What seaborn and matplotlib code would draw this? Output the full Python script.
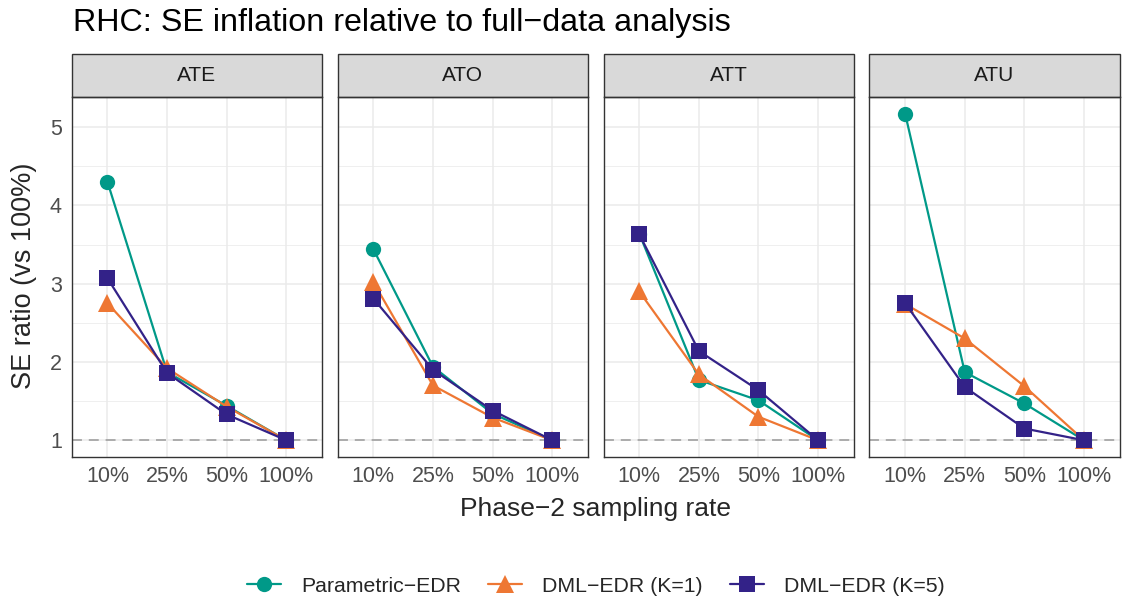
import numpy as np
import pandas as pd
import seaborn as sns
import matplotlib.pyplot as plt
from matplotlib.lines import Line2D
from matplotlib.patches import Rectangle

# values
rates = ['10%', '25%', '50%', '100%']
estimands = ['ATE', 'ATO', 'ATT', 'ATU']
methods = ['Parametric\u2212EDR', 'DML\u2212EDR (K=1)', 'DML\u2212EDR (K=5)']

param_edr = {
    'ATE': [4.30, 1.87, 1.44, 1.00],
    'ATO': [3.44, 1.94, 1.34, 1.00],
    'ATT': [3.64, 1.77, 1.51, 1.00],
    'ATU': [5.17, 1.87, 1.47, 1.00],
}
dml_k1 = {
    'ATE': [2.75, 1.92, 1.43, 1.00],
    'ATO': [3.02, 1.70, 1.29, 1.00],
    'ATT': [2.90, 1.84, 1.30, 1.00],
    'ATU': [2.74, 2.30, 1.69, 1.00],
}
dml_k5 = {
    'ATE': [3.07, 1.86, 1.33, 1.00],
    'ATO': [2.81, 1.90, 1.38, 1.00],
    'ATT': [3.63, 2.14, 1.64, 1.00],
    'ATU': [2.75, 1.68, 1.15, 1.00],
}

colors = ['#009988', '#EE7733', '#332288']
markers = ['o', '^', 's']
msizes = [11, 13, 12]

rows = []
for m, src in zip(methods, [param_edr, dml_k1, dml_k5]):
    for est in estimands:
        for r, v in zip(rates, src[est]):
            rows.append({'method': m, 'estimand': est, 'rate': r, 'ratio': v})
df = pd.DataFrame(rows)

sns.set_style("white")
plt.rcParams['font.family'] = ['Liberation Sans', 'DejaVu Sans']

W, H = 1122, 599
fig = plt.figure(figsize=(W / 100, H / 100), dpi=100)

left0, pw, gap = 71.7, 250.3, 15.6
top_px, bot_px = 97.3, 456.7
strip_h = 43.0

for i, est in enumerate(estimands):
    x0 = left0 + i * (pw + gap)
    ax = fig.add_axes([x0 / W, 1 - bot_px / H, pw / W, (bot_px - top_px) / H])
    sub = df[df['estimand'] == est]
    ax.axhline(1, color='#999999', lw=1.1, dashes=(6.5, 4.5), zorder=1.5)
    for m, c, mk, ms in zip(methods, colors, markers, msizes):
        sns.lineplot(data=sub[sub['method'] == m], x='rate', y='ratio', color=c,
                     marker=mk, markersize=ms, markeredgewidth=0, lw=1.6,
                     sort=False, ax=ax, zorder=3)
    ax.set_xlim(-0.6, 3.6)
    ax.set_ylim(0.79, 5.38)
    ax.set_yticks([1, 2, 3, 4, 5])
    ax.set_yticks([1.5, 2.5, 3.5, 4.5], minor=True)
    ax.set_xlabel('')
    ax.set_ylabel('')
    ax.grid(True, which='major', color='#EBEBEB', lw=1.1, zorder=0)
    ax.grid(True, which='minor', axis='y', color='#EBEBEB', lw=0.55, zorder=0)
    ax.set_axisbelow(True)
    for s in ax.spines.values():
        s.set_color('#333333')
        s.set_linewidth(1.0)
    ax.tick_params(axis='both', which='major', length=4.5, width=1.0, color='#333333',
                   labelsize=15.5, labelcolor='#4D4D4D', pad=2.5)
    ax.tick_params(axis='y', which='minor', length=0)
    if i > 0:
        ax.tick_params(axis='y', which='major', labelleft=False, length=0)
    if ax.get_legend() is not None:
        ax.get_legend().remove()
    # facet strip
    sh = strip_h / (bot_px - top_px)
    ax.add_patch(Rectangle((0, 1), 1, sh, transform=ax.transAxes, clip_on=False,
                           facecolor='#D9D9D9', edgecolor='#333333', lw=1.0))
    ax.text(0.5, 1 + sh / 2, est, transform=ax.transAxes, ha='center', va='center',
            fontsize=15, color='#1A1A1A')

fig.text(73 / W, 1 - 22.5 / H, 'RHC: SE inflation relative to full\u2212data analysis',
         ha='left', va='center', fontsize=23.2, color='black')
fig.text(24 / W, 1 - 276 / H, 'SE ratio (vs 100%)', rotation=90, ha='center', va='center',
         fontsize=19.5)
fig.text(596 / W, 1 - 509 / H, 'Phase\u22122 sampling rate', ha='center', va='center',
         fontsize=19)

handles = [Line2D([0], [0], color=c, marker=mk, markersize=ms, markeredgewidth=0, lw=1.6)
           for c, mk, ms in zip(colors, markers, msizes)]
fig.legend(handles, methods, loc='center', bbox_to_anchor=(596 / W, 1 - 586 / H), ncol=3,
           frameon=False, fontsize=15.3, handlelength=1.6, handletextpad=0.95,
           columnspacing=1.25)

plt.savefig('out.png', dpi=100)
